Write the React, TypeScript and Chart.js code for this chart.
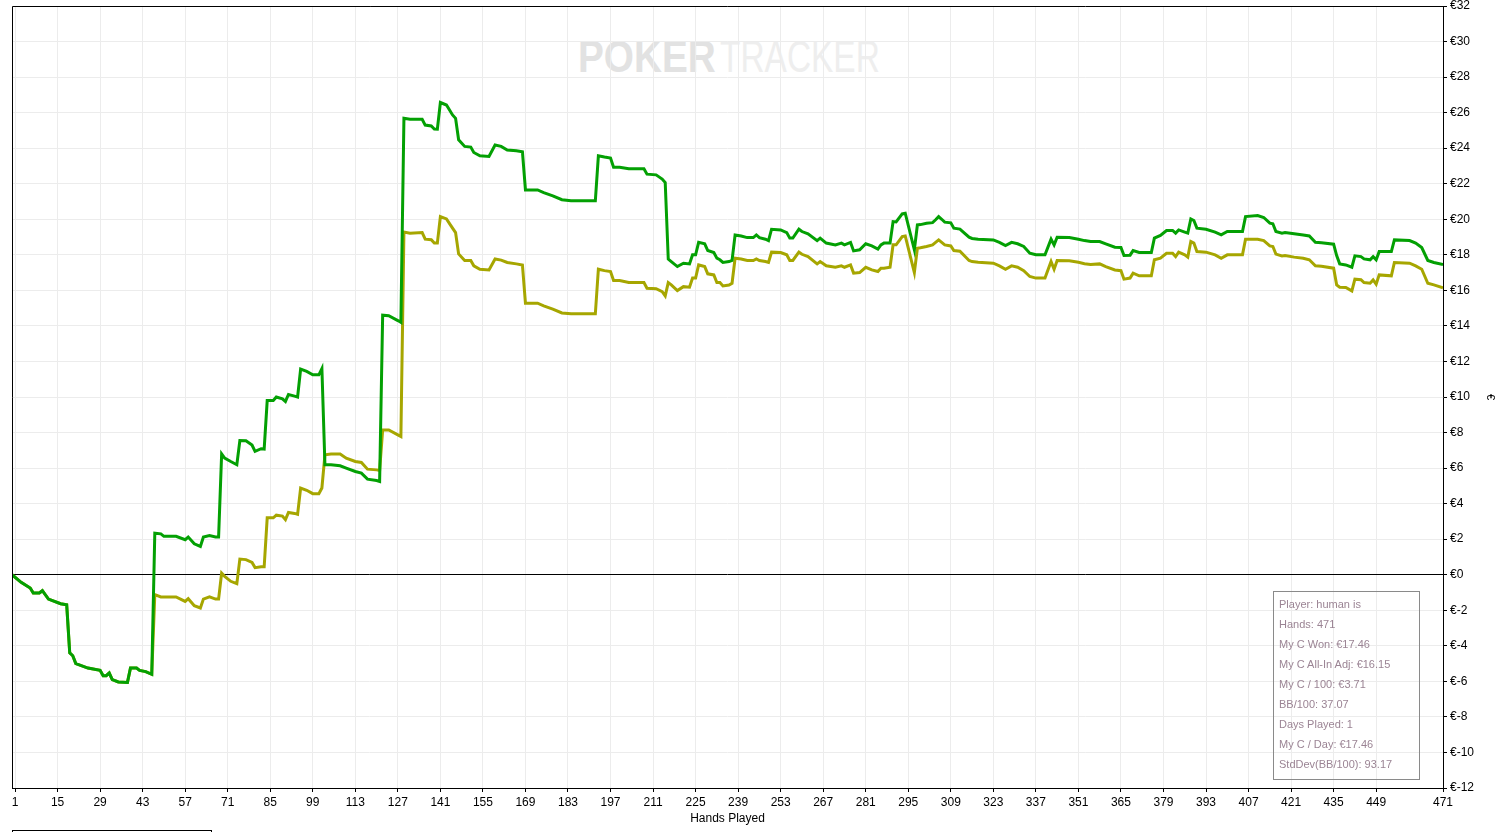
import React, { useEffect, useRef } from "react";
import { Chart, registerables } from "chart.js";

Chart.register(...registerables);

// Hand numbers at which the running totals were read
const hands = [
  0, 3, 6, 7, 9, 10, 12, 16, 18, 19, 20, 21, 25, 29, 30, 31, 32, 33, 35, 38,
  39, 41, 42, 44, 46, 47, 49, 50, 54, 57, 58, 60, 62, 63, 65, 67, 68, 69, 70, 72,
  74, 75, 77, 79, 80, 82, 83, 84, 86, 87, 89, 90, 91, 93, 94, 95, 97, 99, 101, 102,
  103, 105, 108, 110, 113, 115, 117, 120, 121, 122, 124, 127, 128, 129, 131, 135, 136, 138, 139, 140,
  141, 143, 145, 146, 147, 149, 151, 152, 154, 157, 159, 161, 163, 166, 168, 169, 173, 175, 178, 181,
  184, 192, 193, 195, 197, 198, 200, 203, 208, 209, 212, 214, 215, 216, 217, 219, 221, 223, 224, 225,
  226, 228, 229, 231, 232, 233, 234, 236, 237, 238, 240, 242, 244, 245, 246, 248, 249, 250, 253, 255,
  256, 257, 259, 260, 262, 265, 266, 268, 271, 273, 274, 276, 277, 279, 281, 283, 285, 286, 287, 289,
  290, 291, 293, 294, 297, 298, 299, 301, 303, 304, 305, 306, 307, 309, 310, 312, 315, 316, 318, 323,
  325, 327, 329, 331, 333, 335, 337, 340, 342, 343, 344, 348, 351, 353, 355, 358, 360, 363, 365, 366,
  368, 369, 371, 375, 376, 378, 380, 382, 383, 384, 386, 387, 388, 389, 390, 393, 396, 398, 400, 405,
  406, 410, 412, 414, 415, 416, 418, 419, 422, 425, 427, 429, 431, 435, 436, 437, 439, 441, 442, 444,
  445, 447, 448, 449, 450, 454, 455, 460, 462, 464, 466, 468, 471,
];

// "My C Won" (€)
const wonValues = [
  0, -0.43, -0.75, -1.03, -1.03, -0.9, -1.37, -1.63, -1.69, -4.4, -4.56, -5.0, -5.25, -5.38, -5.68, -5.68, -5.53, -5.9, -6.03, -6.06,
  -5.25, -5.25, -5.38, -5.45, -5.6, 2.34, 2.3, 2.16, 2.16, 1.97, 2.12, 1.74, 1.59, 2.12, 2.21, 2.12, 2.12, 6.8, 6.56, 6.37,
  6.19, 7.55, 7.54, 7.3, 6.94, 7.09, 7.07, 9.8, 9.8, 10.0, 9.9, 9.75, 10.14, 10.05, 10.0, 11.57, 11.44, 11.25, 11.25, 11.6,
  6.19, 6.19, 6.13, 6.0, 5.81, 5.72, 5.38, 5.3, 5.25, 14.6, 14.57, 14.3, 14.2, 25.68, 25.63, 25.63, 25.3, 25.25, 25.08, 25.07,
  26.57, 26.43, 25.87, 25.68, 24.47, 24.1, 24.06, 23.76, 23.57, 23.53, 24.18, 24.1, 23.9, 23.85, 23.8, 21.65, 21.65, 21.5, 21.32, 21.1,
  21.04, 21.04, 23.57, 23.5, 23.44, 22.93, 22.93, 22.84, 22.84, 22.54, 22.5, 22.26, 22.07, 17.76, 17.62, 17.34, 17.53, 17.49, 18.0, 18.0,
  18.7, 18.62, 18.24, 18.13, 17.81, 17.72, 17.57, 17.62, 17.68, 19.12, 19.06, 18.97, 18.97, 19.12, 18.97, 18.88, 18.8, 19.44, 19.4, 19.25,
  18.94, 18.94, 19.44, 19.31, 19.18, 18.8, 18.94, 18.66, 18.56, 18.66, 18.56, 18.7, 18.22, 18.28, 18.62, 18.5, 18.32, 18.56, 18.66, 18.66,
  19.87, 19.85, 20.3, 20.34, 18.28, 19.68, 19.7, 19.78, 19.81, 19.97, 20.15, 20.0, 19.84, 19.8, 19.5, 19.45, 18.99, 18.92, 18.88, 18.84,
  18.7, 18.52, 18.7, 18.62, 18.47, 18.09, 18.0, 18.0, 18.88, 18.56, 18.99, 18.97, 18.88, 18.8, 18.75, 18.75, 18.62, 18.43, 18.41, 17.96,
  17.98, 18.24, 18.13, 18.13, 18.94, 19.09, 19.37, 19.37, 19.22, 19.4, 19.28, 19.22, 20.02, 19.93, 19.5, 19.44, 19.28, 19.12, 19.31, 19.31,
  20.15, 20.21, 20.1, 19.78, 19.75, 19.31, 19.22, 19.25, 19.18, 19.12, 19.06, 18.71, 18.68, 18.6, 17.96, 17.49, 17.43, 17.3, 17.94, 17.9,
  17.77, 17.72, 17.9, 17.72, 18.18, 18.18, 18.84, 18.8, 18.66, 18.41, 17.68, 17.57, 17.46,
];

// "My C All-In Adj" (€)
const allInAdjValues = [
  0, -0.43, -0.75, -1.03, -1.03, -0.9, -1.37, -1.63, -1.69, -4.4, -4.56, -5.0, -5.25, -5.38, -5.68, -5.68, -5.53, -5.9, -6.03, -6.06,
  -5.25, -5.25, -5.38, -5.45, -5.6, -1.12, -1.25, -1.25, -1.25, -1.5, -1.35, -1.74, -1.87, -1.37, -1.25, -1.37, -1.37, 0.09, -0.09, -0.37,
  -0.5, 0.88, 0.85, 0.69, 0.4, 0.45, 0.45, 3.2, 3.2, 3.35, 3.3, 3.1, 3.5, 3.45, 3.4, 4.88, 4.75, 4.56, 4.56, 4.88,
  6.75, 6.79, 6.79, 6.56, 6.37, 6.32, 5.94, 5.9, 5.87, 8.15, 8.15, 7.87, 7.78, 19.28, 19.22, 19.25, 18.88, 18.85, 18.66, 18.66,
  20.15, 20.02, 19.5, 19.25, 18.05, 17.68, 17.68, 17.38, 17.19, 17.15, 17.77, 17.7, 17.57, 17.49, 17.43, 15.28, 15.28, 15.13, 14.95, 14.73,
  14.68, 14.68, 17.19, 17.11, 17.06, 16.55, 16.55, 16.44, 16.44, 16.12, 16.09, 15.93, 15.69, 16.44, 16.31, 15.99, 16.21, 16.18, 16.69, 16.69,
  17.43, 17.34, 16.93, 16.87, 16.44, 16.44, 16.25, 16.3, 16.4, 17.81, 17.76, 17.68, 17.68, 17.77, 17.68, 17.62, 17.57, 18.15, 18.13, 18.0,
  17.68, 17.68, 18.15, 18.03, 17.9, 17.49, 17.62, 17.38, 17.3, 17.38, 17.3, 17.43, 16.97, 17.0, 17.3, 17.15, 17.06, 17.25, 17.25, 17.3,
  18.56, 18.56, 19.03, 19.06, 17.0, 18.37, 18.4, 18.47, 18.56, 18.7, 18.84, 18.7, 18.56, 18.5, 18.24, 18.2, 17.68, 17.62, 17.58, 17.53,
  17.38, 17.19, 17.38, 17.3, 17.11, 16.78, 16.69, 16.69, 17.62, 17.19, 17.68, 17.66, 17.58, 17.5, 17.45, 17.49, 17.34, 17.15, 17.11, 16.63,
  16.69, 16.97, 16.82, 16.82, 17.72, 17.81, 18.09, 18.09, 17.9, 18.15, 18.0, 17.87, 18.75, 18.66, 18.18, 18.15, 18.0, 17.81, 18.0, 18.0,
  18.88, 18.88, 18.8, 18.5, 18.47, 18.04, 17.94, 17.96, 17.87, 17.81, 17.72, 17.38, 17.36, 17.25, 16.31, 16.18, 16.16, 15.97, 16.63, 16.6,
  16.44, 16.4, 16.59, 16.35, 16.87, 16.82, 17.57, 17.53, 17.38, 17.19, 16.4, 16.31, 16.15,
];

// Hands shown on the x axis
const xTickHands = [
  1, 15, 29, 43, 57, 71, 85, 99, 113, 127, 141, 155, 169, 183, 197, 211, 225, 239,
  253, 267, 281, 295, 309, 323, 337, 351, 365, 379, 393, 407, 421, 435, 449, 471,
];

const statsLines = [
  "Player: human is",
  "Hands: 471",
  "My C Won: €17.46",
  "My C All-In Adj: €16.15",
  "My C / 100: €3.71",
  "BB/100: 37.07",
  "Days Played: 1",
  "My C / Day: €17.46",
  "StdDev(BB/100): 93.17",
];

const frameBorder = {
  id: "frameBorder",
  afterDraw(chart: any) {
    const { ctx, chartArea } = chart;
    const { left, top, right, bottom } = chartArea;
    ctx.save();
    ctx.strokeStyle = "#000";
    ctx.lineWidth = 1;
    ctx.beginPath();
    ctx.moveTo(Math.round(left) + 0.5, bottom);
    ctx.lineTo(Math.round(left) + 0.5, Math.round(top) + 0.5);
    ctx.lineTo(right, Math.round(top) + 0.5);
    ctx.stroke();
    ctx.restore();
  },
};

export default function App() {
  const canvasRef = useRef<HTMLCanvasElement | null>(null);

  useEffect(() => {
    if (!canvasRef.current) return;
    const font = { family: "'Liberation Sans', Arial, sans-serif", size: 12 };
    const chart = new Chart(canvasRef.current, {
      type: "line",
      data: {
        datasets: [
          {
            label: "My C Won",
            data: hands.map((h, i) => ({ x: h, y: wonValues[i] })),
            borderColor: "#03a003",
            borderWidth: 3,
            pointRadius: 0,
            tension: 0,
            fill: false,
            order: 0,
          },
          {
            label: "My C All-In Adj",
            data: hands.map((h, i) => ({ x: h, y: allInAdjValues[i] })),
            borderColor: "#a6a600",
            borderWidth: 3,
            pointRadius: 0,
            tension: 0,
            fill: false,
            order: 1,
          },
        ],
      },
      options: {
        animation: false,
        responsive: true,
        maintainAspectRatio: false,
        layout: { padding: { left: 12, top: 6, right: 0, bottom: 0 } },
        plugins: {
          legend: { display: false },
          tooltip: { enabled: false },
        },
        scales: {
          x: {
            type: "linear",
            min: 0,
            max: 471,
            afterBuildTicks: (scale: any) => {
              scale.ticks = xTickHands.map((v) => ({ value: v }));
            },
            afterFit: (scale: any) => {
              scale.height = 44;
              scale.paddingLeft = 0;
              scale.paddingRight = 0;
            },
            ticks: {
              autoSkip: false,
              maxRotation: 0,
              color: "#000",
              font,
              padding: 3,
              callback: (v: any) => String(v),
            },
            grid: {
              color: "#ececec",
              tickColor: "#000",
              tickLength: 4,
            },
            border: { color: "#000" },
            title: {
              display: true,
              text: "Hands Played",
              color: "#000",
              font,
              padding: { top: 2, bottom: 6 },
            },
          },
          y: {
            position: "right",
            min: -12,
            max: 32,
            afterFit: (scale: any) => {
              scale.width = 58;
              scale.paddingTop = 0;
              scale.paddingBottom = 0;
            },
            ticks: {
              stepSize: 2,
              color: "#000",
              font,
              padding: 3,
              callback: (v: any) => "€" + v,
            },
            grid: {
              color: (ctx: any) => (ctx.tick && ctx.tick.value === 0 ? "#000" : "#ececec"),
              tickColor: "#000",
              tickLength: 4,
            },
            border: { color: "#000" },
            title: {
              display: true,
              text: "€",
              color: "#000",
              font: { ...font, size: 11 },
              padding: 4,
            },
          },
        },
      },
      plugins: [frameBorder],
    });
    return () => chart.destroy();
  }, []);

  return (
    <div
      style={{
        position: "fixed",
        left: 0,
        top: 0,
        width: 1501,
        height: 832,
        overflow: "hidden",
        background: "#fff",
      }}
    >
      <div
        style={{
          position: "absolute",
          left: 578,
          top: 35,
          fontFamily: "'Liberation Sans', Arial, sans-serif",
          fontSize: 44,
          lineHeight: "44px",
          whiteSpace: "nowrap",
          color: "#e2e2e2",
          fontWeight: "bold",
          transform: "scaleX(0.88)",
          transformOrigin: "left top",
        }}
      >
        POKER
      </div>
      <div
        style={{
          position: "absolute",
          left: 720,
          top: 35,
          fontFamily: "'Liberation Sans', Arial, sans-serif",
          fontSize: 44,
          lineHeight: "44px",
          whiteSpace: "nowrap",
          color: "#eeeeee",
          transform: "scaleX(0.76)",
          transformOrigin: "left top",
        }}
      >
        TRACKER
      </div>
      <div style={{ position: "absolute", left: 0, top: 0, width: 1501, height: 832 }}>
        <canvas ref={canvasRef} />
      </div>
      <div
        style={{
          position: "absolute",
          left: 1273,
          top: 591,
          width: 147,
          height: 189,
          boxSizing: "border-box",
          border: "1px solid #8a8a8a",
          padding: "2px 0 0 5px",
          fontFamily: "'Liberation Sans', Arial, sans-serif",
          fontSize: 11,
          lineHeight: "20px",
          color: "#9b8494",
          whiteSpace: "nowrap",
        }}
      >
        {statsLines.map((t) => (
          <div key={t}>{t}</div>
        ))}
      </div>
      <div
        style={{
          position: "absolute",
          left: 12,
          top: 830,
          width: 200,
          height: 10,
          boxSizing: "border-box",
          border: "1px solid #000",
        }}
      />
    </div>
  );
}
